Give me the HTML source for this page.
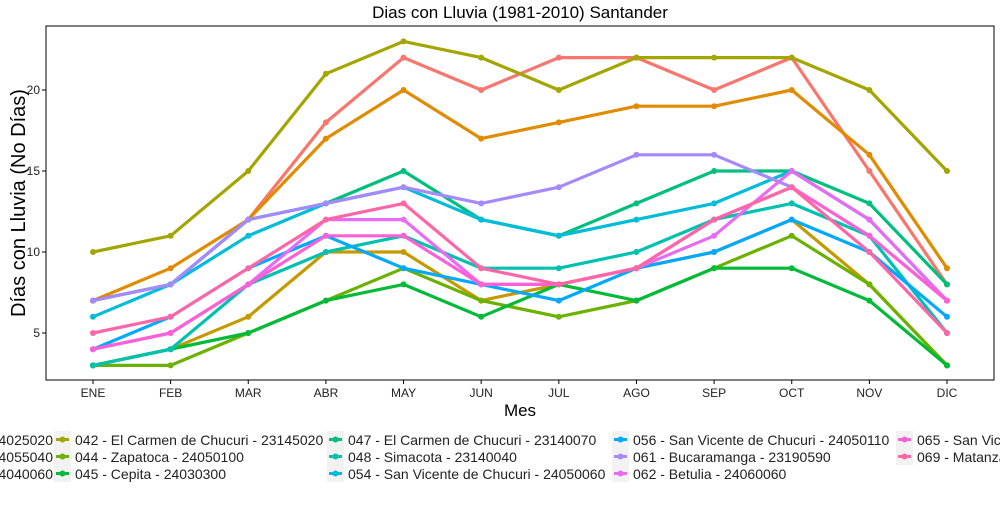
<!DOCTYPE html>
<html><head><meta charset="utf-8"><style>
body{margin:0;background:#fff;font-family:"Liberation Sans",sans-serif;}
svg text{font-family:"Liberation Sans",sans-serif;}
</style></head><body>
<svg id="chart" width="1000" height="500" xmlns="http://www.w3.org/2000/svg">
<text x="520" y="18" font-size="17" text-anchor="middle">Dias con Lluvia (1981-2010)  Santander</text>
<rect x="46" y="26" width="948" height="354" fill="#fff" stroke="#000" stroke-width="1"/>
<g id="marks"></g>
<text x="520" y="416" font-size="17" text-anchor="middle">Mes</text>
<text transform="translate(25,203) rotate(-90)" font-size="20" text-anchor="middle">Días con Lluvia (No Días)</text>
<g id="legend"></g>
</svg>
<script>
const months=["ENE","FEB","MAR","ABR","MAY","JUN","JUL","AGO","SEP","OCT","NOV","DIC"];
const yTicks=[5,10,15,20];
const seriesNames=["041 - 24025020","043 - 24055040","046 - 24040060","042 - El Carmen de Chucuri - 23145020","044 - Zapatoca - 24050100","045 - Cepita - 24030300","047 - El Carmen de Chucuri - 23140070","048 - Simacota - 23140040","054 - San Vicente de Chucuri - 24050060","056 - San Vicente de Chucuri - 24050110","061 - Bucaramanga - 23190590","062 - Betulia - 24060060","065 - San Vicente","069 - Matanza"];
const colors=["#F8766D","#E08B00","#C49A00","#A3A500","#6BB100","#00BA38","#00BF7D","#00C0AF","#00BCD8","#00A9FF","#A58AFF","#E76BF3","#FB61D7","#FF66A8"];
const s0=[7,8,12,18,22,20,22,22,20,22,15,8];
const s1=[7,9,12,17,20,17,18,19,19,20,16,9];
const s2=[3,4,6,10,10,7,8,9,10,12,8,3];
const s3=[10,11,15,21,23,22,20,22,22,22,20,15];
const s4=[3,3,5,7,9,7,6,7,9,11,8,3];
const s5=[3,4,5,7,8,6,8,7,9,9,7,3];
const s6=[7,8,12,13,15,12,11,13,15,15,13,8];
const s7=[3,4,8,10,11,9,9,10,12,13,11,5];
const s8=[6,8,11,13,14,12,11,12,13,15,12,7];
const s9=[4,6,9,11,9,8,7,9,10,12,10,6];
const s10=[7,8,12,13,14,13,14,16,16,14,11,7];
const s11=[4,5,8,12,12,8,8,9,11,15,12,7];
const s12=[4,5,8,11,11,8,8,9,12,14,11,7];
const s13=[5,6,9,12,13,9,8,9,12,14,10,5];
const allSeries=[s0,s1,s2,s3,s4,s5,s6,s7,s8,s9,s10,s11,s12,s13];
const NS="http://www.w3.org/2000/svg";
const xS=i=>93+i*(947-93)/11;
const yS=v=>333-(v-5)*16.2;
const g=document.getElementById('marks');
function mk(t,a,p){const e=document.createElementNS(NS,t);for(const k in a)e.setAttribute(k,a[k]);(p||g).appendChild(e);return e;}
yTicks.forEach(v=>{
 const tl=mk('line',{x1:42,x2:46,y1:yS(v),y2:yS(v),stroke:'#000'});
 
 
 const t=mk('text',{x:40,y:yS(v)+4,'font-size':12,'text-anchor':'end',fill:'#222'});
 t.textContent=v;
 
 
});
months.forEach((m,i)=>{
 const tl=mk('line',{x1:xS(i),x2:xS(i),y1:380,y2:384,stroke:'#000'});
 
 
 const t=mk('text',{x:xS(i),y:397,'font-size':12,'text-anchor':'middle',fill:'#222'});
 t.textContent=m;
 
 
});
allSeries.forEach((s,k)=>{
 const sg=mk('g',{});
 
 
 const pl=mk('polyline',{points:s.map((v,i)=>xS(i)+','+yS(v)).join(' '),fill:'none',stroke:colors[k],'stroke-width':3.2,'stroke-linejoin':'round'},sg);
 
 
 s.forEach((v,i)=>{
  const c=mk('circle',{cx:xS(i),cy:yS(v),r:3,fill:colors[k]},sg);
  
  
 });
});
const lg=document.getElementById('legend');
const colX=[-200,57,330,615,899];
seriesNames.forEach((n,k)=>{
 const col=Math.floor(k/3), row=k%3;
 const x=colX[col], y=431+row*17;
 const eg=mk('g',{},lg);
 
 
 mk('rect',{x:x-3,y:y,width:17,height:17,fill:'#f2f2f2'},eg);
 mk('line',{x1:x-1,x2:x+12,y1:y+8.5,y2:y+8.5,stroke:colors[k],'stroke-width':3},eg);
 mk('circle',{cx:x+5.5,cy:y+8.5,r:3,fill:colors[k]},eg);
 const t=col===0?mk('text',{x:53,y:y+14,'font-size':14,fill:'#222','text-anchor':'end'},eg):mk('text',{x:x+18,y:y+14,'font-size':14,fill:'#222'},eg);
 t.textContent=n;
});
</script>
</body></html>
